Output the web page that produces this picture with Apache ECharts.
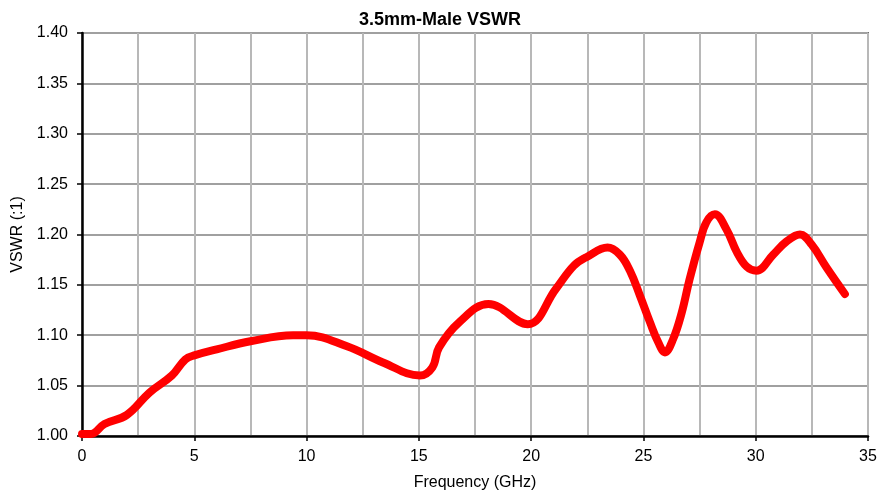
<!DOCTYPE html>
<html>
<head>
<meta charset="utf-8">
<script src="https://cdn.jsdelivr.net/npm/echarts@6/dist/echarts.min.js"></script>
<style>html,body{margin:0;padding:0;background:#fff;}#c{width:880px;height:496px;}</style>
</head>
<body>
<div id="c"></div>
<script>
const titleText = '3.5mm-Male VSWR';
const xName = 'Frequency (GHz)';
const yName = 'VSWR (:1)';
const freq = [0, 0.4, 1, 2, 3, 4, 4.6, 5, 6, 7.5, 9.4, 10, 11.8, 13.4, 15.05, 15.6, 15.9, 16.8, 18.1, 19.85, 21.1, 21.9, 22.5, 23.4, 23.95, 24.4, 24.85, 25.29, 25.66, 25.96, 26.32, 26.7, 27.05, 27.5, 27.8, 28.18, 28.7, 29.15, 29.6, 30.03, 30.78, 31.37, 31.97, 32.49, 33.16, 33.97];
const vswr = [1.002, 1.002, 1.012, 1.021, 1.043, 1.060, 1.076, 1.080, 1.086, 1.094, 1.100, 1.100, 1.089, 1.073, 1.060, 1.068, 1.088, 1.113, 1.131, 1.111, 1.146, 1.169, 1.178, 1.187, 1.180, 1.164, 1.139, 1.113, 1.093, 1.083, 1.096, 1.122, 1.155, 1.192, 1.212, 1.220, 1.205, 1.183, 1.168, 1.164, 1.180, 1.193, 1.200, 1.190, 1.167, 1.141];

const chart = echarts.init(document.getElementById('c'));
const font = 'Liberation Sans, Arial, sans-serif';
chart.setOption({
  animation: false,
  backgroundColor: '#fff',
  title: {
    text: titleText, left: 'center', top: 6,
    textStyle: { fontFamily: font, fontSize: 18, fontWeight: 'bold', color: '#000' }
  },
  grid: { left: 82, right: 12, top: 33, bottom: 59, show: true, borderColor: '#000', borderWidth: 1.5, backgroundColor: '#fff' },
  xAxis: {
    type: 'value', min: 0, max: 35, interval: 5,
    name: xName, nameLocation: 'middle', nameGap: 39,
    nameTextStyle: { fontFamily: font, fontSize: 16, color: '#000' },
    axisLine: { show: true, onZero: false, lineStyle: { color: '#000', width: 2.5 } },
    axisTick: { show: true, length: 5, inside: false, lineStyle: { color: '#000', width: 1.5 } },
    axisLabel: { fontFamily: font, fontSize: 16, color: '#000', margin: 13 },
    splitLine: { show: true, lineStyle: { color: '#b8b8b8', width: 2 } },
    minorTick: { show: false, splitNumber: 2 },
    minorSplitLine: { show: true, lineStyle: { color: '#b8b8b8', width: 2 } }
  },
  yAxis: {
    type: 'value', min: 1, max: 1.4, interval: 0.05,
    name: yName, nameLocation: 'middle', nameGap: 52, nameRotate: 90,
    nameTextStyle: { fontFamily: font, fontSize: 16, color: '#000' },
    axisLine: { show: true, onZero: false, lineStyle: { color: '#000', width: 2.5 } },
    axisTick: { show: true, length: 5, inside: false, lineStyle: { color: '#000', width: 1.5 } },
    axisLabel: { fontFamily: font, fontSize: 16, color: '#000', margin: 14, formatter: v => v.toFixed(2) },
    splitLine: { show: true, lineStyle: { color: '#a0a0a0', width: 2 } }
  },
  series: [{
    type: 'line',
    data: freq.map((f, i) => [f, vswr[i]]),
    smooth: 0.4,
    showSymbol: false,
    lineStyle: { color: '#ff0000', width: 8, cap: 'round', join: 'round' }
  }]
});
</script>
</body>
</html>
